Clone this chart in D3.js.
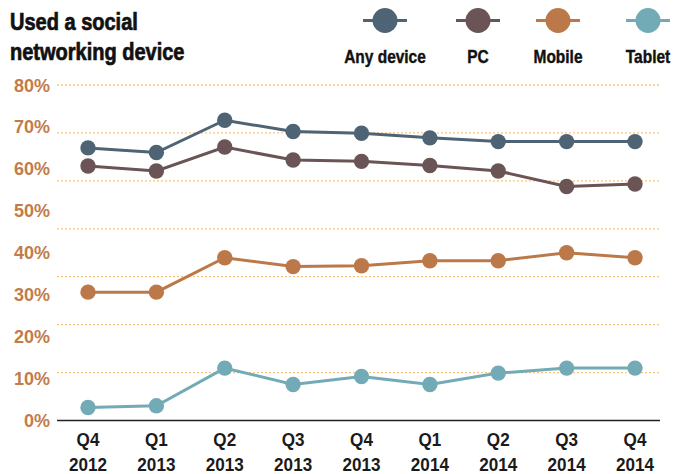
<!DOCTYPE html>
<html><head><meta charset="utf-8">
<script src="https://cdn.jsdelivr.net/npm/d3@7"></script>
<style>
body{margin:0;background:#fff;}
svg{display:block;}
</style></head>
<body><svg id="c" width="676" height="474"></svg>
<script>
const quarters = ["Q4","Q1","Q2","Q3","Q4","Q1","Q2","Q3","Q4"];
const years = ["2012","2013","2013","2013","2013","2014","2014","2014","2014"];
const seriesNames = ["Any device","PC","Mobile","Tablet"];
const anyDevice = [65, 63.9, 71.6, 68.9, 68.5, 67.4, 66.5, 66.5, 66.5];
const pc = [60.7, 59.5, 65.2, 62.1, 61.8, 60.8, 59.5, 55.8, 56.4];
const mobile = [30.6, 30.6, 38.8, 36.7, 36.9, 38.1, 38.1, 40.0, 38.8];
const tablet = [3.1, 3.5, 12.5, 8.6, 10.5, 8.6, 11.3, 12.5, 12.5];
const yTicks = [0,10,20,30,40,50,60,70,80];
const colors = ["#4e6474","#6a5456","#bb794a","#72abb6"];

const svg = d3.select("#c");
const reg = "'Liberation Sans',Arial,sans-serif";

const labels = quarters.map((q,i)=>q+" "+years[i]);
const x = d3.scalePoint().domain(labels).range([88, 635]);
const y = d3.scaleLinear().domain([0,80]).range([420.5, 85]);

// title (condensed via horizontal scale)
const t = svg.append("g").attr("transform","translate(10,0) scale(0.87,1)")
  .append("text").attr("font-family",reg).attr("font-weight","bold")
  .attr("font-size",23).attr("fill","#111").attr("stroke","#111").attr("stroke-width",0.7);
t.append("tspan").attr("x",0).attr("y",30).text("Used a social");
t.append("tspan").attr("x",0).attr("y",60).text("networking device");

// gridlines (7 even steps between baseline and top)
const gridVals = d3.range(1,8).map(i => 80*i/7);
svg.append("g").selectAll("line").data(gridVals).join("line")
  .attr("x1",57).attr("x2",660)
  .attr("y1",d=>y(d)).attr("y2",d=>y(d))
  .attr("stroke","#fcc67a").attr("stroke-width",1.3).attr("stroke-dasharray","2,2");

// y labels
svg.append("g").selectAll("text").data(yTicks).join("text")
  .attr("x",50).attr("y",d=>y(d)+6.5).attr("text-anchor","end")
  .attr("font-family",reg).attr("font-weight","bold").attr("font-size",18)
  .attr("fill","#c27c4a").text(d=>d+"%");

// baseline
svg.append("line").attr("x1",57).attr("x2",660).attr("y1",y(0)).attr("y2",y(0))
  .attr("stroke","#222").attr("stroke-width",1.5);

// x labels
const xl = svg.append("g").selectAll("g").data(labels).join("g")
  .attr("transform",d=>`translate(${x(d)},0) scale(0.95,1)`)
  .append("text")
  .attr("text-anchor","middle").attr("font-family",reg).attr("font-weight","bold")
  .attr("font-size",18).attr("fill","#1a1a1a");
xl.append("tspan").attr("x",0).attr("y",446).text((d,i)=>quarters[i]);
xl.append("tspan").attr("x",0).attr("y",471).text((d,i)=>years[i]);

// series
const all = [anyDevice, pc, mobile, tablet];
const line = d3.line().x((d,i)=>x(labels[i])).y(d=>y(d));
all.forEach((vals,k)=>{
  const g = svg.append("g");
  g.append("path").attr("d",line(vals)).attr("fill","none")
    .attr("stroke",colors[k]).attr("stroke-width",3);
  g.selectAll("circle").data(vals).join("circle")
    .attr("cx",(d,i)=>x(labels[i])).attr("cy",d=>y(d)).attr("r",7.7)
    .attr("fill",colors[k]);
});

// legend
const legX = [385, 478, 558, 648];
const lg = svg.append("g").selectAll("g").data(seriesNames).join("g")
  .attr("transform",(d,i)=>`translate(${legX[i]},20.5)`);
lg.append("line").attr("x1",-22).attr("x2",22).attr("stroke",(d,i)=>colors[i]).attr("stroke-width",3);
lg.append("circle").attr("r",12.5).attr("fill",(d,i)=>colors[i]);
lg.append("g").attr("transform","scale(0.86,1)").append("text").attr("y",43).attr("text-anchor","middle")
  .attr("font-family",reg).attr("font-weight","bold").attr("font-size",18)
  .attr("fill","#111").attr("stroke","#111").attr("stroke-width",0.4).text(d=>d);
</script></body></html>
